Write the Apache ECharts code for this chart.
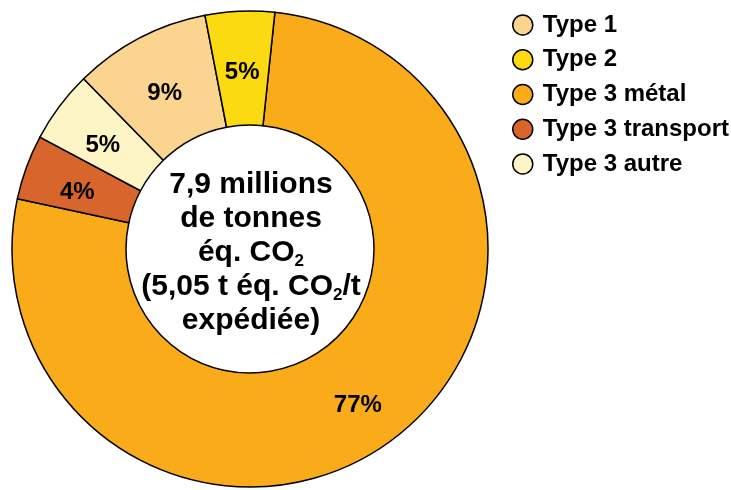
<!DOCTYPE html>
<html>
<head>
<meta charset="utf-8">
<script src="https://cdn.jsdelivr.net/npm/echarts@6/dist/echarts.min.js"></script>
<style>html,body{margin:0;padding:0;background:#fff;}#c{width:731px;height:490px;}</style>
</head>
<body>
<div id="c"></div>
<script>
// Data (clockwise from just right of 12 o'clock)
const categories = ['Type 3 métal', 'Type 3 transport', 'Type 3 autre', 'Type 1', 'Type 2'];
const values = [76.8, 4.4, 4.9, 9.3, 4.7];
const legendOrder = ['Type 1', 'Type 2', 'Type 3 métal', 'Type 3 transport', 'Type 3 autre'];
const centerLines = ['7,9 millions', 'de tonnes', 'éq. CO', '(5,05 t éq. CO', '/t', 'expédiée)'];

const colorMap = {
  'Type 3 métal': '#F9AB19',
  'Type 3 transport': '#D8652B',
  'Type 3 autre': '#FEF5C7',
  'Type 1': '#FBD490',
  'Type 2': '#FCDA12'
};
const FONT = '"Liberation Sans", Arial, sans-serif';

const chart = echarts.init(document.getElementById('c'), null, {renderer: 'canvas'});
chart.setOption({
  animation: false,
  backgroundColor: '#fff',
  legend: {
    data: legendOrder,
    orient: 'vertical',
    left: 507,
    top: 8,
    icon: 'circle',
    itemWidth: 30,
    itemHeight: 20,
    itemGap: 10.75,
    itemStyle: {borderColor: '#000', borderWidth: 1.5},
    textStyle: {fontFamily: FONT, fontSize: 24, fontWeight: 'bold', color: '#000'},
    selectedMode: false
  },
  series: [{
    type: 'pie',
    center: [250, 249],
    radius: [124, 238],
    startAngle: 84,
    clockwise: true,
    avoidLabelOverlap: false,
    percentPrecision: 0,
    emphasis: {disabled: true},
    itemStyle: {borderColor: '#000', borderWidth: 1.5},
    label: {
      show: true,
      position: 'inside',
      formatter: '{d}%',
      offset: [0, 7],
      fontFamily: FONT,
      fontSize: 24,
      fontWeight: 'bold',
      color: '#000',
      textBorderWidth: 0
    },
    labelLine: {show: false},
    data: categories.map((n, i) => ({name: n, value: values[i], itemStyle: {color: colorMap[n]}}))
  }],
  graphic: [{
    type: 'text',
    x: 251,
    y: 253,
    silent: true,
    style: {
      text: '{m|' + centerLines[0] + '}\n{m|' + centerLines[1] + '}\n{m|' + centerLines[2] + '}{s|2}\n{m|' +
            centerLines[3] + '}{s|2}{m|' + centerLines[4] + '}\n{m|' + centerLines[5] + '}',
      align: 'center',
      verticalAlign: 'middle',
      fill: '#000',
      font: 'bold 30px ' + FONT,
      rich: {
        m: {fontFamily: FONT, fontSize: 30, fontWeight: 'bold', lineHeight: 34, fill: '#000'},
        s: {fontFamily: FONT, fontSize: 17, fontWeight: 'bold', lineHeight: 12, verticalAlign: 'bottom', fill: '#000'}
      }
    }
  }]
});
</script>
</body>
</html>
